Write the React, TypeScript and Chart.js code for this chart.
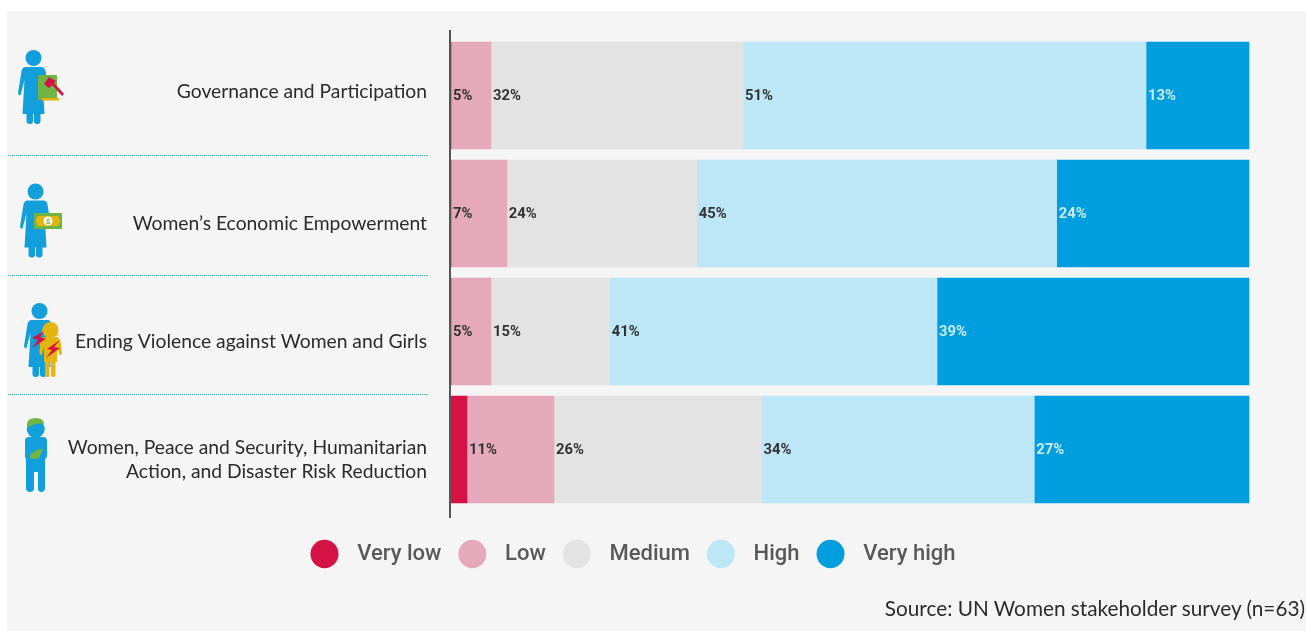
import React, { useEffect, useRef } from "react";
import { Chart, registerables } from "chart.js";

Chart.register(...registerables);

const categories: (string | string[])[] = [
  ["Governance and Participation", ""],
  "Women’s Economic Empowerment",
  "Ending Violence against Women and Girls",
  ["Women, Peace and Security, Humanitarian", "Action, and Disaster Risk Reduction"],
];
const veryLow = [0, 0, 0, 2];
const low = [5, 7, 5, 10.9];
const medium = [31.6, 23.8, 14.9, 26];
const high = [50.5, 45.1, 41, 34.2];
const veryHigh = [12.9, 24.1, 39.1, 26.9];
const sourceText = "Source: UN Women stakeholder survey (n=63)";

const BLUE = "#129fdc";

const dataLabels = {
  id: "dataLabels",
  afterDatasetsDraw(chart: any) {
    const { ctx } = chart;
    ctx.save();
    ctx.font = "700 14.8px Roboto";
    ctx.textBaseline = "middle";
    ctx.textAlign = "left";
    chart.data.datasets.forEach((ds: any, i: number) => {
      if (i === 0) return;
      chart.getDatasetMeta(i).data.forEach((bar: any, j: number) => {
        ctx.fillStyle = i === 4 ? "#c9ecf9" : "#333333";
        ctx.fillText(`${Math.round(ds.data[j])}%`, bar.base + 2, bar.y + 0.5);
      });
    });
    ctx.restore();
  },
};

const axisLine = {
  id: "axisLine",
  afterDatasetsDraw(chart: any) {
    const { ctx, chartArea } = chart;
    ctx.save();
    ctx.strokeStyle = "#555555";
    ctx.lineWidth = 2;
    ctx.beginPath();
    ctx.moveTo(chartArea.left - 1, chartArea.top - 6.5);
    ctx.lineTo(chartArea.left - 1, chartArea.bottom + 9.5);
    ctx.stroke();
    ctx.restore();
  },
};

function Woman({ x, y }: { x: number; y: number }) {
  return (
    <g transform={`translate(${x} ${y})`} fill={BLUE}>
      <circle cx={0} cy={0} r={8} />
      <path d="M-8 9 Q-11 9 -12 13 L-15.5 35 Q-15 38 -13 37 L-9 22 L-11 56 L11 56 L9 22 L13 37 Q15 38 15.5 35 L12 13 Q11 9 8 9 Z" />
      <rect x={-7} y={54} width={6.5} height={12} rx={3} />
      <rect x={0.5} y={54} width={6.5} height={12} rx={3} />
    </g>
  );
}

function Icons() {
  return (
    <svg width={1306} height={631} style={{ position: "absolute", left: 0, top: 0, pointerEvents: "none" }}>
      <g>
        <Woman x={33.5} y={58} />
        <rect x={38} y={75} width={19} height={25} rx={1} fill="#70b544" />
        <rect x={42} y={98} width={17} height={2.5} fill="#e3b50f" />
        <path d="M49 77 L44 84 L49 88 L52 85 L62 96 L64 94 L54 83 L56 81 Z" fill="#d41245" />
      </g>
      <g>
        <Woman x={35.5} y={191.5} />
        <rect x={34} y={213} width={28} height={16} fill="#70b544" />
        <path d="M38 216 H58 L60.5 221 L58 226 H38 L35.5 221 Z" fill="#e3b50f" />
        <circle cx={48} cy={221} r={4.5} fill="#fff" />
        <text x={48} y={224} fontSize={8} fontFamily="Roboto" fontWeight={700} fill="#70b544" textAnchor="middle">$</text>
      </g>
      <g>
        <Woman x={39.5} y={311} />
        <g fill="#e3b50f">
          <circle cx={50.5} cy={330} r={8} />
          <path d="M41 332 L45 326 L60 336 Z" />
          <path d="M44 337 Q41 338 40 344 L39.5 354 Q41 356 42 354 L44 346 L44 362 L57 362 L57 346 L59 354 Q61 356 62 354 L61 344 Q60 338 57 337 Z" />
          <rect x={45} y={360} width={4.5} height={17} rx={2} />
          <rect x={51} y={360} width={4.5} height={17} rx={2} />
        </g>
        <path d="M44 331 L32 338 L38 340 L32 348 L46 339 L40 337 Z" fill="#d41245" />
        <path d="M60 340 L47 349 L52 350 L46 358 L60 348 L54 347 Z" fill="#d41245" />
      </g>
      <g>
        <circle cx={35.7} cy={429} r={9} fill={BLUE} />
        <path d="M27 424 Q27 418 36 418 Q44 418 44 424 Q36 422 27 428 Z" fill="#70b544" />
        <path d="M29 437 H43 Q47 437 47 441 V456 Q47 458 45 459 V488 Q45 492 41 492 Q38 492 38 488 V472 H34 V488 Q34 492 30 492 Q26 492 26 488 V459 Q25 458 25 456 V441 Q25 437 29 437 Z" fill={BLUE} />
        <path d="M30 455 Q36 448 43 449 L39 458 Q34 460 30 458 Z" fill="#70b544" />
      </g>
      <g stroke="#2a9fd6" strokeWidth={1} strokeDasharray="1 1">
        <line x1={8} x2={428} y1={155.5} y2={155.5} />
        <line x1={8} x2={428} y1={275.5} y2={275.5} />
        <line x1={8} x2={428} y1={394.5} y2={394.5} />
      </g>
    </svg>
  );
}

export default function App() {
  const ref = useRef<HTMLCanvasElement>(null);
  useEffect(() => {
    document.body.style.margin = "0";
    const mk = (label: string, data: number[], backgroundColor: string) => ({
      label,
      data,
      backgroundColor,
      barThickness: 107,
      borderWidth: 0,
    });
    const chart = new Chart(ref.current!, {
      type: "bar",
      data: {
        labels: categories as any,
        datasets: [
          mk("Very low", veryLow, "#d41245"),
          mk("Low", low, "#e6a9bb"),
          mk("Medium", medium, "#e3e3e3"),
          mk("High", high, "#bde6f7"),
          mk("Very high", veryHigh, "#009ede"),
        ],
      },
      options: {
        indexAxis: "y",
        animation: false,
        responsive: false,
        layout: { padding: { left: 8, right: 48, top: 36.5, bottom: 56 } },
        scales: {
          x: {
            stacked: true,
            min: 0,
            max: 101.13,
            grid: { display: false, drawTicks: false },
            border: { display: false },
            ticks: { display: false },
            afterFit: (s: any) => { s.height = 17.5; s.paddingLeft = 0; s.paddingRight = 0; },
          },
          y: {
            stacked: true,
            grid: { display: false, drawTicks: false },
            border: { display: false },
            ticks: {
              padding: 24,
              labelOffset: 10,
              color: "#2b2b2b",
              font: (c: any) => ({ family: "Lato", size: 19.3, lineHeight: c.index === 0 ? "28px" : "24px" }),
            },
            afterFit: (s: any) => { s.width = 443; s.paddingTop = 0; s.paddingBottom = 0; },
          },
        },
        plugins: {
          legend: {
            position: "bottom",
            labels: {
              usePointStyle: true,
              pointStyle: "circle",
              pointStyleWidth: 28,
              boxHeight: 20,
              padding: 17,
              color: "#595959",
              font: { family: "Roboto", size: 22, weight: "500" },
              generateLabels: (c: any) =>
                Chart.defaults.plugins.legend.labels.generateLabels(c).map((l: any) => ({
                  ...l,
                  text: `\u200a ${l.text}`,
                  lineWidth: 0,
                  strokeStyle: "transparent",
                })),
            },
          },
          tooltip: { enabled: false },
          title: { display: false },
        },
      } as any,
      plugins: [dataLabels, axisLine],
    });
    return () => chart.destroy();
  }, []);
  return (
    <div style={{ position: "relative", width: 1306, height: 631, overflow: "hidden", background: "#fff" }}>
      <div style={{ position: "absolute", left: 7, top: 11, width: 1299, height: 620, background: "#f5f5f5" }} />
      <canvas ref={ref} width={1306} height={631} style={{ position: "absolute", left: 0, top: 0 }} />
      <Icons />
      <div style={{ position: "absolute", right: 1, top: 596, font: "20.75px Lato", color: "#2b2b2b", whiteSpace: "nowrap" }}>
        {sourceText}
      </div>
    </div>
  );
}
